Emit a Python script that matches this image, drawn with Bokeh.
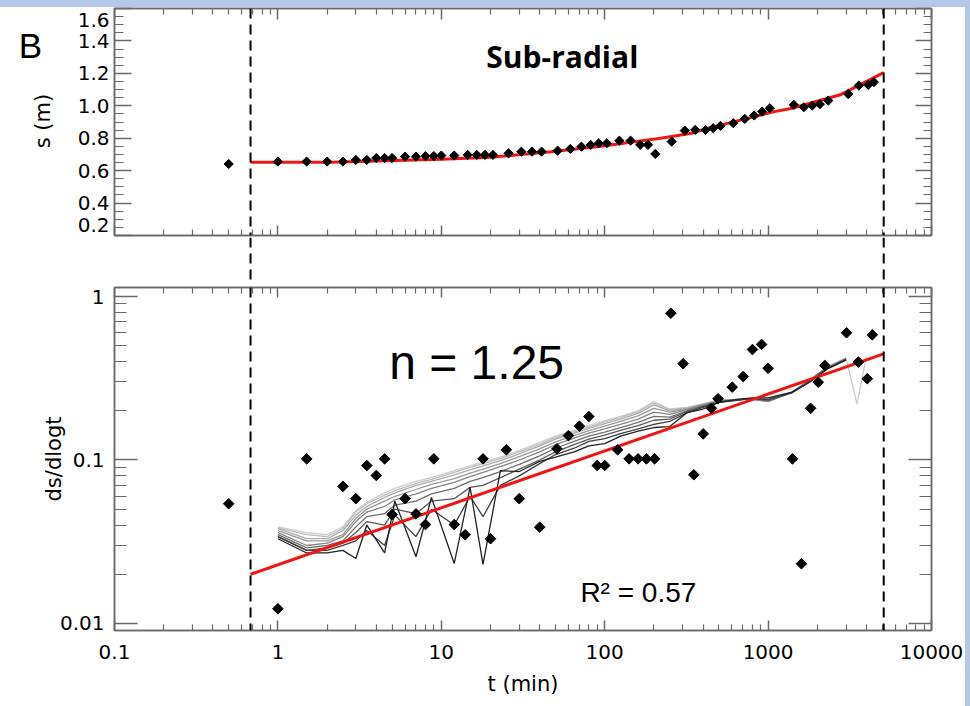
import numpy as np
from bokeh.plotting import figure
from bokeh.models import (Range1d, LinearAxis, LogAxis, FixedTicker,
                          CustomJSTickFormatter, Span, Label, Spacer)
from bokeh.layouts import column, row
from bokeh.embed import file_html
from bokeh.resources import INLINE

# ---------------- data ----------------
# top panel: s (m) vs t (min)
t_s = [0.5, 1, 1.5, 2, 2.5, 3, 3.5, 4, 4.5, 5, 6, 7, 8, 9, 10, 12, 14.5, 16.5, 18.5, 20.7,
       25.8, 30.9, 35.9, 41.1, 51.5, 61.6, 72, 82, 92, 103, 123, 144, 165, 184, 204, 257,
       309, 358, 414, 461, 511, 612, 720, 822, 920, 1024, 1436, 1654, 1862, 2074, 2334,
       3093, 3592, 4100, 4440]
s_m = [0.641, 0.656, 0.656, 0.656, 0.656, 0.666, 0.666, 0.678, 0.678, 0.678, 0.686, 0.686,
       0.69, 0.69, 0.693, 0.693, 0.697, 0.697, 0.697, 0.697, 0.707, 0.717, 0.717, 0.717,
       0.723, 0.734, 0.748, 0.759, 0.769, 0.769, 0.785, 0.785, 0.759, 0.759, 0.703, 0.779,
       0.847, 0.851, 0.851, 0.862, 0.876, 0.893, 0.919, 0.940, 0.964, 0.985, 1.006, 0.991,
       1.001, 1.010, 1.032, 1.072, 1.125, 1.129, 1.146]
# red fit curve of the top panel
fit_s_t = [0.68, 2.12, 10, 20.2, 47, 95, 220, 340, 430, 1090, 1400, 2800, 5100]
fit_s = [0.652, 0.652, 0.670, 0.682, 0.717, 0.750, 0.800, 0.830, 0.862, 0.964, 0.985, 1.070, 1.205]

# bottom panel: ds/dlogt vs t
t_d = [0.5, 1, 1.5, 2.5, 3, 3.5, 4, 4.5, 5, 6, 7, 8, 9, 12, 14, 18, 20, 25, 30, 40, 51, 60,
       70, 80, 90, 100, 120, 141, 160, 180, 202, 254, 302, 351, 401, 450, 494, 603, 704, 802,
       912, 1000, 1410, 1600, 1820, 2027, 2224, 3020, 3565, 4045, 4343]
v_d = [0.054, 0.0123, 0.1016, 0.069, 0.058, 0.0925, 0.0804, 0.1016, 0.0464, 0.058, 0.0468,
       0.0403, 0.1016, 0.0403, 0.0349, 0.1016, 0.033, 0.1154, 0.058, 0.0388, 0.117, 0.141,
       0.161, 0.1845, 0.0925, 0.0925, 0.1154, 0.1016, 0.1016, 0.1016, 0.1016, 0.79, 0.388,
       0.0812, 0.1445, 0.207, 0.237, 0.279, 0.324, 0.474, 0.509, 0.364, 0.1016, 0.0232, 0.207,
       0.299, 0.378, 0.6, 0.397, 0.314, 0.583]
# red power-law fit of the bottom panel
fit_d_t = [0.68, 5100]
fit_d = [0.020, 0.446]

# grey running-derivative curves (darkest first)
t_lines = [1, 1.5, 2, 2.5, 3, 3.5, 4.5, 5.2, 7, 8.7, 12, 15, 18, 23, 30, 40, 50, 65, 80, 100,
           125, 160, 200, 250, 320, 400, 500, 650, 800, 1000, 1400, 1800, 2300, 3000]
line_0 = [0.033, 0.027, 0.027, 0.028, 0.025, 0.040, 0.027, 0.056, 0.0256, 0.059, 0.0233, 0.068,
          0.023, 0.086, 0.085, 0.098, 0.104, 0.112, 0.122, 0.126, 0.14, 0.15, 0.158, 0.16, 0.195,
          0.205, 0.225, 0.235, 0.24, 0.24, 0.26, 0.3, 0.36, 0.41]
line_1 = [0.034, 0.028, 0.028, 0.03, 0.032, 0.037, 0.03, 0.046, 0.034, 0.05, 0.04, 0.06, 0.045,
          0.07, 0.08, 0.095, 0.108, 0.118, 0.13, 0.135, 0.145, 0.155, 0.165, 0.172, 0.195, 0.21,
          0.225, 0.232, 0.238, 0.235, 0.258, 0.3, 0.36, 0.41]
line_2 = [0.034, 0.028, 0.029, 0.031, 0.036, 0.042, 0.04, 0.05, 0.047, 0.056, 0.058, 0.068, 0.07,
          0.078, 0.088, 0.1, 0.112, 0.124, 0.134, 0.142, 0.152, 0.162, 0.175, 0.178, 0.198, 0.212,
          0.226, 0.233, 0.237, 0.232, 0.258, 0.305, 0.365, 0.41]
line_3 = [0.035, 0.029, 0.03, 0.032, 0.039, 0.045, 0.047, 0.053, 0.056, 0.062, 0.067, 0.074,
          0.078, 0.085, 0.094, 0.106, 0.118, 0.13, 0.14, 0.148, 0.158, 0.17, 0.185, 0.183, 0.2,
          0.214, 0.228, 0.234, 0.236, 0.23, 0.258, 0.305, 0.365, 0.415]
line_4 = [0.036, 0.03, 0.031, 0.034, 0.042, 0.048, 0.052, 0.057, 0.062, 0.067, 0.073, 0.079,
          0.084, 0.091, 0.1, 0.112, 0.124, 0.136, 0.146, 0.155, 0.165, 0.178, 0.196, 0.19, 0.203,
          0.216, 0.229, 0.234, 0.236, 0.229, 0.259, 0.307, 0.367, 0.415]
line_5 = [0.037, 0.032, 0.032, 0.035, 0.044, 0.05, 0.056, 0.06, 0.066, 0.071, 0.077, 0.083,
          0.088, 0.095, 0.105, 0.117, 0.129, 0.141, 0.151, 0.161, 0.172, 0.186, 0.207, 0.196,
          0.205, 0.218, 0.23, 0.235, 0.236, 0.228, 0.259, 0.308, 0.368, 0.418]
line_6 = [0.038, 0.033, 0.033, 0.037, 0.046, 0.052, 0.059, 0.063, 0.07, 0.074, 0.081, 0.087,
          0.092, 0.099, 0.109, 0.122, 0.134, 0.146, 0.156, 0.167, 0.178, 0.193, 0.217, 0.2,
          0.207, 0.219, 0.231, 0.235, 0.236, 0.228, 0.26, 0.309, 0.369, 0.42]
line_7 = [0.0385, 0.035, 0.034, 0.038, 0.048, 0.054, 0.061, 0.065, 0.072, 0.076, 0.084, 0.09,
          0.095, 0.102, 0.112, 0.125, 0.137, 0.149, 0.159, 0.171, 0.182, 0.197, 0.223, 0.203,
          0.209, 0.22, 0.232, 0.235, 0.235, 0.228, 0.26, 0.31, 0.37, 0.42]
line_8 = [0.039, 0.036, 0.035, 0.039, 0.049, 0.055, 0.063, 0.067, 0.074, 0.078, 0.086, 0.092,
          0.097, 0.104, 0.114, 0.128, 0.14, 0.152, 0.162, 0.174, 0.185, 0.2, 0.228, 0.205, 0.21,
          0.22, 0.232, 0.235, 0.235, 0.228, 0.26, 0.31, 0.37, 0.42]
t_tail = [3000, 3500, 4000]
line_8_tail = [0.42, 0.22, 0.43]

# fit window (dashed lines)
window_t = [0.68, 5100]

# tick labels
x_ticks = [0.1, 1, 10, 100, 1000, 10000]
s_ticks = [0.2, 0.4, 0.6, 0.8, 1.0, 1.2, 1.4, 1.6]
d_ticks = [0.01, 0.1, 1]

# ---------------- styling helpers ----------------
W = 965
AX = "#6a6a6a"
BLUE = "#b6c8e8"
TICKFONT = "DejaVu Sans"
x_minor = [m * 10.0 ** e for e in range(-1, 4) for m in range(2, 10)]
d_minor = [m * 10.0 ** e for e in range(-3, 0) for m in range(2, 10)]
s_minor = [round(0.2 + 0.05 * i, 2) for i in range(29)]
# label anchor positions of the s axis: end labels are drawn slightly inside the panel
s_label_pos = [0.265, 0.4, 0.6, 0.8, 1.0, 1.2, 1.4, 1.529]

xr = Range1d(0.1, 10000)


def style_axis(ax, major_in, minor_in, show_labels):
    ax.major_tick_in = major_in
    ax.major_tick_out = 0
    ax.minor_tick_in = minor_in
    ax.minor_tick_out = 0
    ax.axis_line_color = AX
    ax.axis_line_width = 1.5
    ax.major_tick_line_color = AX
    ax.major_tick_line_width = 1.5
    ax.minor_tick_line_color = AX
    ax.minor_tick_line_width = 1.2
    if show_labels:
        ax.major_label_text_font = TICKFONT
        ax.major_label_text_font_size = "20px"
        ax.major_label_text_color = "black"
    else:
        ax.major_label_text_font_size = "1px"
        ax.major_label_text_alpha = 0
        ax.major_label_standoff = 0


def base_fig(width, height, y_range, y_type, mb_left, mb_top, mb_bottom):
    p = figure(width=width, height=height, x_axis_type="log", y_axis_type=y_type,
               x_range=xr, y_range=y_range, output_backend="svg", toolbar_location=None,
               min_border_left=mb_left, min_border_right=34, min_border_top=mb_top,
               min_border_bottom=mb_bottom)
    p.grid.visible = False
    p.outline_line_color = AX
    p.outline_line_width = 1.5
    p.background_fill_color = "white"
    p.border_fill_color = "white"
    return p


def txt(x, y, text, font, size, **kw):
    return Label(x=x, y=y, text=text, text_font=font, text_font_size=size,
                 text_color="black", **kw)


fmt_log = CustomJSTickFormatter(code="return String(tick);")
fmt_s = CustomJSTickFormatter(code="""
if (tick > 1.5) { return '1.6'; }
if (tick < 0.3) { return '0.2'; }
return tick.toFixed(1);
""")

# ---------------- left strip of the top row (panel letter + y title) ----------------
LW = 56
lab = figure(width=LW, height=230, x_range=Range1d(0, LW), y_range=Range1d(0, 230),
             output_backend="svg", toolbar_location=None, x_axis_location=None,
             y_axis_location=None, min_border_left=0, min_border_right=0,
             min_border_top=0, min_border_bottom=0)
lab.grid.visible = False
lab.outline_line_color = None
lab.add_layout(txt(30, 193, "B", "Liberation Sans", "35px",
                   text_align="center", text_baseline="middle"))
lab.add_layout(txt(42, 116, "s (m)", TICKFONT, "21px", angle=np.pi / 2,
                   text_align="center", text_baseline="middle"))

# ---------------- top panel ----------------
top = base_fig(W - LW, 230, Range1d(0.2, 1.6), "linear", 114 - LW, 1, 2)
top.xaxis.ticker = FixedTicker(ticks=x_ticks, minor_ticks=x_minor)
style_axis(top.xaxis[0], 10, 6, False)
top.yaxis.ticker = FixedTicker(ticks=s_ticks, minor_ticks=s_minor)
style_axis(top.yaxis[0], 17, 9, False)
# label-only axis for the s values
s_lab_axis = LinearAxis(ticker=FixedTicker(ticks=s_label_pos), formatter=fmt_s)
s_lab_axis.major_tick_line_color = None
s_lab_axis.minor_tick_line_color = None
s_lab_axis.axis_line_color = None
s_lab_axis.major_tick_in = 0
s_lab_axis.major_tick_out = 0
s_lab_axis.major_label_standoff = 5
s_lab_axis.major_label_text_font = TICKFONT
s_lab_axis.major_label_text_font_size = "20px"
s_lab_axis.major_label_text_color = "black"
top.add_layout(s_lab_axis, "left")
ax_top = LogAxis(ticker=FixedTicker(ticks=x_ticks, minor_ticks=x_minor))
style_axis(ax_top, 11, 6, False)
top.add_layout(ax_top, "above")
ax_right = LinearAxis(ticker=FixedTicker(ticks=s_ticks, minor_ticks=s_minor))
style_axis(ax_right, 16, 8, False)
top.add_layout(ax_right, "right")

for tt in window_t:
    top.add_layout(Span(location=tt, dimension="height", line_color="black",
                        line_width=2, line_dash="10 6"))
top.line(fit_s_t, fit_s, line_color="#f01414", line_width=3)
top.scatter(t_s, s_m, marker="square", angle=np.pi / 4, size=6.5,
            fill_color="black", line_color="black")

top.add_layout(txt(55, 1.304, "Sub-radial", "Open Sans", "30px", text_font_style="bold",
                   text_align="center", text_baseline="middle"))

# ---------------- gap (dashed lines continue between panels) ----------------
gap = figure(width=W, height=47, x_axis_type="log", x_range=xr, y_range=Range1d(0, 1),
             output_backend="svg", toolbar_location=None, x_axis_location=None,
             y_axis_location=None, min_border_left=114, min_border_right=34,
             min_border_top=0, min_border_bottom=0)
gap.grid.visible = False
gap.outline_line_color = None
for tt in window_t:
    gap.add_layout(Span(location=tt, dimension="height", line_color="black",
                        line_width=2, line_dash="10 6"))

# ---------------- bottom panel ----------------
bot = base_fig(W, 422, Range1d(0.00906, 1.135), "log", 114, 3, 76)
bot.xaxis.ticker = FixedTicker(ticks=x_ticks, minor_ticks=x_minor)
bot.xaxis.formatter = fmt_log
style_axis(bot.xaxis[0], 10, 6, True)
bot.xaxis.major_label_standoff = 14
bot.xaxis.axis_label = "t (min)"
bot.xaxis.axis_label_text_font = TICKFONT
bot.xaxis.axis_label_text_font_size = "21px"
bot.xaxis.axis_label_text_font_style = "normal"
bot.xaxis.axis_label_text_color = "black"
bot.xaxis.axis_label_standoff = 10
bot.yaxis.ticker = FixedTicker(ticks=d_ticks, minor_ticks=d_minor)
bot.yaxis.formatter = fmt_log
style_axis(bot.yaxis[0], 23, 12, True)
bot.yaxis.major_label_standoff = 10
bot.yaxis.axis_label = "ds/dlogt"
bot.yaxis.axis_label_text_font = TICKFONT
bot.yaxis.axis_label_text_font_size = "21px"
bot.yaxis.axis_label_text_font_style = "normal"
bot.yaxis.axis_label_text_color = "black"
bot.yaxis.axis_label_standoff = -9
bax_top = LogAxis(ticker=FixedTicker(ticks=x_ticks, minor_ticks=x_minor))
style_axis(bax_top, 10, 6, False)
bot.add_layout(bax_top, "above")
bax_right = LogAxis(ticker=FixedTicker(ticks=d_ticks, minor_ticks=d_minor))
style_axis(bax_right, 23, 12, False)
bot.add_layout(bax_right, "right")

for tt in window_t:
    bot.add_layout(Span(location=tt, dimension="height", line_color="black",
                        line_width=2, line_dash="10 6"))

grey_lines = [line_8, line_7, line_6, line_5, line_4, line_3, line_2, line_1, line_0]
grey_cols = ["#cdcdcd", "#bdbdbd", "#ababab", "#999999", "#858585", "#6e6e6e", "#575757",
             "#3d3d3d", "#222222"]
bot.line(t_tail, line_8_tail, line_color=grey_cols[0], line_width=1.3)
for ys, c in zip(grey_lines, grey_cols):
    bot.line(t_lines, ys, line_color=c, line_width=1.3)

bot.line(fit_d_t, fit_d, line_color="#f01414", line_width=3)
bot.scatter(t_d, v_d, marker="square", angle=np.pi / 4, size=7.5,
            fill_color="black", line_color="black")

bot.add_layout(txt(4.8, 0.395, "n = 1.25", "Liberation Sans", "48px",
                   text_align="left", text_baseline="alphabetic"))
bot.add_layout(txt(71, 0.01548, "R\u00b2 = 0.57", "Liberation Sans", "28px",
                   text_align="left", text_baseline="alphabetic"))

band = Spacer(width=W, height=7, styles={"background-color": BLUE})
strip = Spacer(width=5, height=706, styles={"background-color": BLUE})
layout = row(column(band, row(lab, top), gap, bot), strip,
             styles={"background-color": "white"})

open("out.html", "w").write(file_html(layout, INLINE))
